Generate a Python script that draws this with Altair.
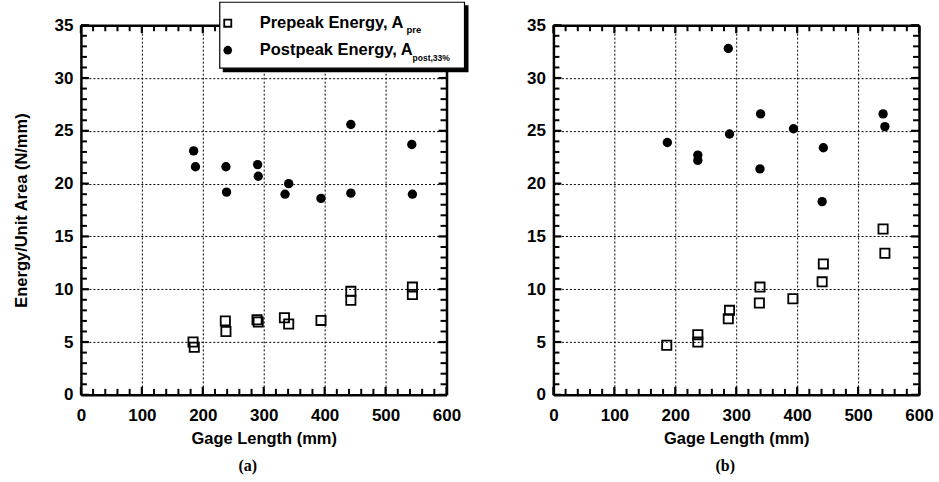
import altair as alt
import pandas as pd

# ---- data ----
# panel (a)
pre_x_a = [184, 186, 237, 238, 289, 291, 334, 341, 394, 443, 443, 544, 544]
pre_y_a = [5.0, 4.5, 7.0, 6.0, 7.1, 6.9, 7.3, 6.7, 7.05, 9.8, 8.95, 10.2, 9.5]
post_x_a = [185, 188, 238, 239, 290, 291, 335, 341, 394, 443, 443, 543, 544]
post_y_a = [23.1, 21.6, 21.6, 19.2, 21.8, 20.7, 19.0, 20.0, 18.6, 25.6, 19.1, 23.7, 19.0]
# panel (b)
pre_x_b = [186, 237, 237, 287, 289, 338, 339, 393, 441, 443, 541, 544]
pre_y_b = [4.7, 5.0, 5.7, 7.2, 8.0, 8.7, 10.2, 9.1, 10.7, 12.4, 15.7, 13.4]
post_x_b = [187, 237, 237, 287, 289, 339, 340, 394, 441, 443, 541, 544]
post_y_b = [23.9, 22.7, 22.2, 32.8, 24.7, 21.4, 26.6, 25.2, 18.3, 23.4, 26.6, 25.4]

# axis tick positions
x_major = [0, 100, 200, 300, 400, 500, 600]
x_minor = [v for v in range(0, 601, 20) if v % 100 != 0]
y_major = [0, 5, 10, 15, 20, 25, 30, 35]
y_minor = [v for v in range(0, 36) if v % 5 != 0]

x_title = "Gage Length (mm)"
y_title = "Energy/Unit Area (N/mm)"
legend_main = ["Prepeak Energy, A", "Postpeak Energy, A"]
legend_sub = ["pre", "post,33%"]

FONT = "Liberation Sans"
W, H = 366, 370
T_MAJOR, T_MINOR = 8, 6
TICK_COLOR = "black"


def main_axis(orient, values, title, **extra):
    return alt.Axis(
        orient=orient, values=values, title=title,
        grid=True, gridColor="black", gridDash=[2, 2], gridWidth=1,
        ticks=False, tickSize=0,
        domain=True, domainColor="black", domainWidth=2.5,
        labelFont=FONT, labelFontSize=17, labelFontWeight="bold",
        labelColor="black", labelFlush=False, labelOverlap=False,
        titleFont=FONT, titleFontSize=16.5, titleFontWeight="bold",
        titleColor="black", **extra)


def frame_axis(orient, values):
    return alt.Axis(orient=orient, values=values, ticks=False, tickSize=0,
                    labels=False, domain=True, domainColor="black",
                    domainWidth=2.5, grid=False, title=None)


def panel(pre_x, pre_y, post_x, post_y, show_ytitle, label, dx, with_legend):
    pre = pd.DataFrame({"x": pre_x, "y": pre_y})
    post = pd.DataFrame({"x": post_x, "y": post_y})
    xs = alt.Scale(domain=[0, 600], nice=False, zero=False)
    ys = alt.Scale(domain=[0, 35], nice=False, zero=False)

    x_main = main_axis("bottom", x_major, x_title, labelPadding=13, titlePadding=7)
    if show_ytitle:
        y_main = main_axis("left", y_major, y_title, labelPadding=8,
                           titleX=-59, titleY=H / 2, titleBaseline="middle")
    else:
        y_main = main_axis("left", y_major, None, labelPadding=8)

    squares = alt.Chart(pre).mark_point(
        shape="square", filled=False, size=85, strokeWidth=1.8, color="black", opacity=1
    ).encode(x=alt.X("x:Q", scale=xs, axis=x_main),
             y=alt.Y("y:Q", scale=ys, axis=y_main))
    circles = alt.Chart(post).mark_circle(size=88, color="black", opacity=1).encode(
        x=alt.X("x:Q", scale=xs, axis=frame_axis("top", x_major)),
        y=alt.Y("y:Q", scale=ys, axis=frame_axis("right", y_major)))

    # inward tick marks on all four sides (positioned through the scales)
    def xticks(values, size, width):
        d = pd.DataFrame({"v": values})
        bottom = alt.Chart(d).mark_rule(color=TICK_COLOR, strokeWidth=width, opacity=1).encode(
            x=alt.X("v:Q", scale=xs, axis=None), y=alt.value(H - size), y2=alt.value(H))
        top = alt.Chart(d).mark_rule(color=TICK_COLOR, strokeWidth=width, opacity=1).encode(
            x=alt.X("v:Q", scale=xs, axis=None), y=alt.value(0), y2=alt.value(size))
        return [bottom, top]

    def yticks(values, size, width):
        d = pd.DataFrame({"v": values})
        left_ = alt.Chart(d).mark_rule(color=TICK_COLOR, strokeWidth=width, opacity=1).encode(
            y=alt.Y("v:Q", scale=ys, axis=None), x=alt.value(0), x2=alt.value(size))
        right_ = alt.Chart(d).mark_rule(color=TICK_COLOR, strokeWidth=width, opacity=1).encode(
            y=alt.Y("v:Q", scale=ys, axis=None), x=alt.value(W - size), x2=alt.value(W))
        return [left_, right_]

    layers = [squares, circles]
    layers += xticks(x_major, T_MAJOR, 2.2) + xticks(x_minor, T_MINOR, 2)
    layers += yticks(y_major, T_MAJOR, 2.2) + yticks(y_minor, T_MINOR, 2)

    if with_legend:
        one = pd.DataFrame({"k": [0]})
        shadow = alt.Chart(one).mark_rect(color="black").encode(
            x=alt.value(142), x2=alt.value(388), y=alt.value(-20), y2=alt.value(47))
        box = alt.Chart(one).mark_rect(fill="white", stroke="black", strokeWidth=1.2).encode(
            x=alt.value(139), x2=alt.value(384), y=alt.value(-23), y2=alt.value(43))
        sym_sq = alt.Chart(one).mark_point(shape="square", filled=False, size=50,
                                           strokeWidth=1.8, color="black", opacity=1).encode(
            x=alt.value(147), y=alt.value(-2))
        sym_ci = alt.Chart(one).mark_circle(size=75, color="black", opacity=1).encode(
            x=alt.value(147), y=alt.value(25))
        t1 = alt.Chart(one).mark_text(text=legend_main[0], font=FONT, fontSize=16.5,
                                      fontWeight="bold", align="left",
                                      baseline="alphabetic", color="black").encode(
            x=alt.value(179), y=alt.value(3))
        t2 = alt.Chart(one).mark_text(text=legend_main[1], font=FONT, fontSize=16.5,
                                      fontWeight="bold", align="left",
                                      baseline="alphabetic", color="black").encode(
            x=alt.value(179), y=alt.value(30))
        s1 = alt.Chart(one).mark_text(text=legend_sub[0], font=FONT, fontSize=9.5,
                                      fontWeight="bold", align="left",
                                      baseline="alphabetic", color="black").encode(
            x=alt.value(326), y=alt.value(8))
        s2 = alt.Chart(one).mark_text(text=legend_sub[1], font=FONT, fontSize=8.5,
                                      fontWeight="bold", align="left",
                                      baseline="alphabetic", color="black").encode(
            x=alt.value(332), y=alt.value(36))
        layers += [shadow, box, sym_sq, sym_ci, t1, t2, s1, s2]

    return alt.layer(*layers).resolve_axis(x="independent", y="independent").properties(
        width=W, height=H,
        title=alt.TitleParams(label, orient="bottom", font="Liberation Serif",
                              fontSize=16, fontWeight="bold", color="black",
                              offset=11, dx=dx))


left = panel(pre_x_a, pre_y_a, post_x_a, post_y_a, True, "(a)", -16, True)
right = panel(pre_x_b, pre_y_b, post_x_b, post_y_b, False, "(b)", -11, False)

chart = alt.hconcat(left, right, spacing=107, bounds="flush").configure_view(
    stroke=None
).properties(
    padding={"left": 14, "top": 1, "right": 5, "bottom": 0},
    background="white",
)

chart.save("out.html", embed_options={"renderer": "svg", "actions": False})
